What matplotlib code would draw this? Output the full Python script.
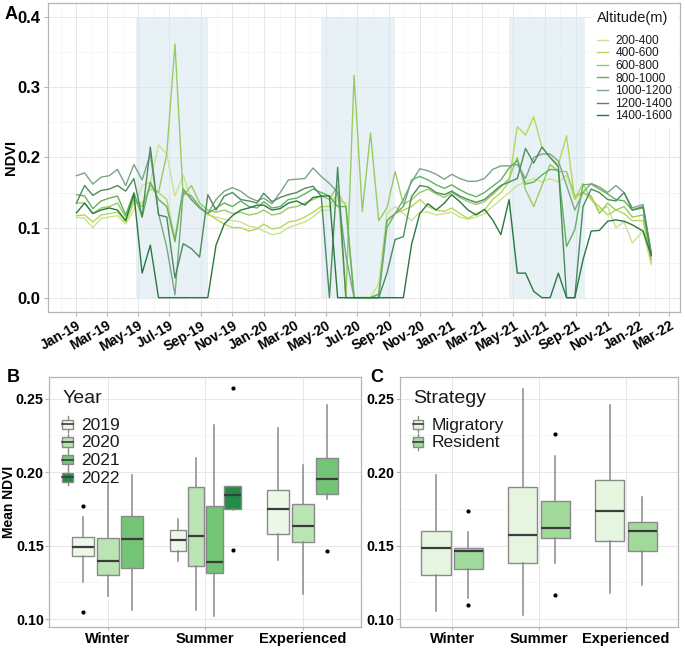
"""NDVI by altitude band (A) and seasonal mean NDVI boxplots by year (B) and strategy (C)."""

import matplotlib

matplotlib.use("Agg")
import matplotlib.dates as mdates
import matplotlib.pyplot as plt
import pandas as pd
from matplotlib.legend_handler import HandlerBase
from matplotlib.lines import Line2D
from matplotlib.patches import Patch, Rectangle
from matplotlib.ticker import MultipleLocator

plt.rcParams["font.family"] = ["Liberation Sans", "DejaVu Sans"]

# ---- panel A data: 16-day composites, 23 per year + two in Jan 2022 ----
dates = [pd.Timestamp(y, 1, 1) + pd.Timedelta(days=16 * k) for y in (2019, 2020, 2021) for k in range(23)]
dates += [pd.Timestamp("2022-01-09"), pd.Timestamp("2022-01-25")]

altitude_bands = ["200-400", "400-600", "600-800", "800-1000", "1000-1200", "1200-1400", "1400-1600"]

ndvi_200_400 = [
    0.115, 0.113, 0.100, 0.113, 0.115, 0.117, 0.105, 0.125, 0.160, 0.165, 0.218, 0.205, 0.145, 0.175, 0.140, 0.128, 0.118, 0.115, 0.112, 0.110, 0.108, 0.102, 0.100,
    0.095, 0.090, 0.092, 0.100, 0.104, 0.108, 0.115, 0.125, 0.125, 0.140, 0.135, 0.000, 0.000, 0.000, 0.020, 0.120, 0.130, 0.120, 0.110, 0.122, 0.122, 0.118, 0.120,
    0.122, 0.115, 0.112, 0.115, 0.120, 0.130, 0.140, 0.150, 0.160, 0.165, 0.170, 0.165, 0.170, 0.165, 0.175, 0.140, 0.150, 0.140, 0.125, 0.130, 0.100, 0.108, 0.078,
    0.095, 0.047,
]
ndvi_400_600 = [
    0.117, 0.118, 0.108, 0.118, 0.120, 0.122, 0.108, 0.135, 0.135, 0.155, 0.150, 0.140, 0.085, 0.155, 0.140, 0.128, 0.120, 0.112, 0.105, 0.100, 0.100, 0.095, 0.098,
    0.105, 0.098, 0.100, 0.108, 0.110, 0.115, 0.122, 0.130, 0.130, 0.150, 0.130, 0.000, 0.000, 0.000, 0.005, 0.110, 0.120, 0.125, 0.130, 0.140, 0.130, 0.125, 0.123,
    0.128, 0.120, 0.113, 0.120, 0.125, 0.140, 0.150, 0.165, 0.244, 0.232, 0.258, 0.215, 0.200, 0.190, 0.231, 0.140, 0.163, 0.140, 0.130, 0.118, 0.125, 0.120, 0.110,
    0.110, 0.050,
]
ndvi_600_800 = [
    0.135, 0.135, 0.120, 0.128, 0.130, 0.135, 0.115, 0.140, 0.130, 0.160, 0.150, 0.205, 0.362, 0.145, 0.160, 0.135, 0.125, 0.122, 0.125, 0.120, 0.122, 0.118, 0.120,
    0.125, 0.118, 0.120, 0.128, 0.130, 0.135, 0.140, 0.145, 0.140, 0.160, 0.000, 0.317, 0.123, 0.235, 0.110, 0.128, 0.180, 0.133, 0.140, 0.150, 0.155, 0.148, 0.143,
    0.150, 0.143, 0.137, 0.133, 0.137, 0.147, 0.158, 0.170, 0.200, 0.154, 0.130, 0.160, 0.190, 0.180, 0.180, 0.145, 0.150, 0.145, 0.120, 0.135, 0.125, 0.130, 0.115,
    0.118, 0.055,
]
ndvi_800_1000 = [
    0.147, 0.145, 0.127, 0.138, 0.142, 0.145, 0.118, 0.150, 0.115, 0.165, 0.140, 0.130, 0.080, 0.155, 0.140, 0.128, 0.120, 0.128, 0.135, 0.130, 0.138, 0.130, 0.128,
    0.137, 0.128, 0.130, 0.140, 0.142, 0.148, 0.155, 0.150, 0.145, 0.130, 0.130, 0.000, 0.000, 0.000, 0.005, 0.110, 0.120, 0.130, 0.168, 0.173, 0.168, 0.161, 0.156,
    0.161, 0.154, 0.148, 0.144, 0.150, 0.159, 0.168, 0.185, 0.196, 0.162, 0.165, 0.175, 0.183, 0.182, 0.073, 0.097, 0.161, 0.162, 0.155, 0.148, 0.140, 0.138, 0.125,
    0.128, 0.062,
]
ndvi_1000_1200 = [
    0.174, 0.178, 0.162, 0.172, 0.174, 0.183, 0.160, 0.190, 0.168, 0.205, 0.120, 0.072, 0.004, 0.150, 0.145, 0.130, 0.120, 0.140, 0.152, 0.157, 0.152, 0.143, 0.138,
    0.142, 0.134, 0.150, 0.168, 0.169, 0.170, 0.185, 0.173, 0.163, 0.150, 0.060, 0.000, 0.000, 0.000, 0.000, 0.100, 0.120, 0.140, 0.165, 0.184, 0.181, 0.176, 0.169,
    0.176, 0.170, 0.166, 0.166, 0.170, 0.183, 0.188, 0.188, 0.190, 0.170, 0.200, 0.205, 0.205, 0.195, 0.160, 0.125, 0.150, 0.163, 0.158, 0.150, 0.160, 0.150, 0.128,
    0.133, 0.065,
]
ndvi_1200_1400 = [
    0.135, 0.160, 0.146, 0.153, 0.155, 0.160, 0.152, 0.170, 0.115, 0.215, 0.118, 0.115, 0.028, 0.077, 0.070, 0.058, 0.147, 0.125, 0.145, 0.150, 0.140, 0.138, 0.135,
    0.149, 0.137, 0.143, 0.147, 0.150, 0.156, 0.159, 0.145, 0.000, 0.186, 0.000, 0.000, 0.000, 0.000, 0.000, 0.035, 0.083, 0.087, 0.144, 0.160, 0.158, 0.150, 0.147,
    0.152, 0.145, 0.140, 0.136, 0.140, 0.150, 0.160, 0.165, 0.170, 0.213, 0.192, 0.215, 0.200, 0.187, 0.000, 0.000, 0.130, 0.155, 0.150, 0.140, 0.138, 0.150, 0.125,
    0.130, 0.060,
]
ndvi_1400_1600 = [
    0.121, 0.135, 0.120, 0.125, 0.128, 0.125, 0.110, 0.148, 0.035, 0.075, 0.000, 0.000, 0.000, 0.000, 0.000, 0.000, 0.000, 0.075, 0.105, 0.117, 0.125, 0.128, 0.132,
    0.132, 0.125, 0.127, 0.135, 0.138, 0.132, 0.143, 0.145, 0.145, 0.000, 0.000, 0.000, 0.000, 0.000, 0.000, 0.000, 0.000, 0.000, 0.076, 0.120, 0.134, 0.125, 0.135,
    0.147, 0.137, 0.125, 0.118, 0.126, 0.111, 0.090, 0.140, 0.035, 0.035, 0.009, 0.000, 0.000, 0.035, 0.000, 0.000, 0.054, 0.095, 0.096, 0.109, 0.111, 0.109, 0.104,
    0.095, 0.060,
]
band_series = [ndvi_200_400, ndvi_400_600, ndvi_600_800, ndvi_800_1000, ndvi_1000_1200, ndvi_1200_1400, ndvi_1400_1600]
band_colors = ["#cbe28e", "#b7d75a", "#98cb62", "#5fb35c", "#7aa685", "#4d8b5d", "#2a7841"]

# shaded summer periods
summer_start = ["2019-04-28", "2020-04-22", "2021-04-22"]
summer_end = ["2019-09-14", "2020-09-12", "2021-09-17"]

# ---- panel B data: box stats per season x year ----
b_seasons = ["Winter", "Summer", "Experienced"]
b_years = ["2019", "2020", "2021", "2022"]
b_year_colors = ["#EDF8E9", "#BAE4B3", "#74C476", "#238B45"]
b_box_season = [0, 0, 0, 1, 1, 1, 1, 2, 2, 2]
b_box_year = [0, 1, 2, 0, 1, 2, 3, 0, 1, 2]
b_whislo = [0.1252, 0.1156, 0.1063, 0.1392, 0.1063, 0.1022, 0.1742, 0.1403, 0.1174, 0.1820]
b_q1 = [0.1430, 0.1303, 0.1348, 0.1464, 0.1359, 0.1312, 0.1751, 0.1582, 0.1526, 0.1854]
b_med = [0.1493, 0.1397, 0.1546, 0.1537, 0.1568, 0.1390, 0.1847, 0.1747, 0.1631, 0.1952]
b_q3 = [0.1562, 0.1550, 0.1702, 0.1609, 0.1896, 0.1769, 0.1909, 0.1878, 0.1785, 0.2099]
b_whishi = [0.1698, 0.1920, 0.1983, 0.1680, 0.2099, 0.2322, 0.1909, 0.2299, 0.2050, 0.2458]
b_fliers = [[0.177, 0.1051], [], [], [], [], [], [0.2574, 0.147], [], [], [0.146]]

# ---- panel C data: box stats per season x strategy ----
c_strategies = ["Migratory", "Resident"]
c_colors = ["#E5F5E0", "#A1D99B"]
c_box_season = [0, 0, 1, 1, 2, 2]
c_box_strategy = [0, 1, 0, 1, 0, 1]
c_whislo = [0.1052, 0.1146, 0.1027, 0.1381, 0.1175, 0.1235]
c_q1 = [0.1302, 0.1338, 0.1383, 0.1553, 0.1533, 0.1463]
c_med = [0.1481, 0.1463, 0.1573, 0.1618, 0.1737, 0.1602]
c_q3 = [0.1602, 0.1486, 0.1896, 0.1802, 0.1947, 0.1663]
c_whishi = [0.1980, 0.1593, 0.2567, 0.2108, 0.2457, 0.1828]
c_fliers = [[], [0.1739, 0.1094], [], [0.226, 0.1164], [], []]

GRID = "#e3e3e3"
GRID_MINOR = "#efefef"
BORDER = "#b5b5b5"
BOX_EDGE = "#8a8a8a"
MEDIAN = "#3c3c3c"
TEXT = "#1a1a1a"


def style_axes(ax):
    for s in ax.spines.values():
        s.set_color(BORDER)
        s.set_linewidth(0.9)
    ax.grid(which="major", color=GRID, lw=0.6)
    ax.grid(which="minor", color=GRID_MINOR, lw=0.4)
    ax.set_axisbelow(True)
    ax.tick_params(which="major", color=BORDER, length=3, width=0.8, pad=2, labelcolor="black")
    ax.tick_params(which="minor", length=0)
    for lab in ax.get_xticklabels() + ax.get_yticklabels():
        lab.set_fontweight("bold")


def color_legend(leg, title_gap):
    for t in leg.get_texts():
        t.set_color(TEXT)
    leg.get_title().set_color(TEXT)
    leg._legend_box.sep = title_gap  # room between title and keys, as in ggplot


class BoxKey(HandlerBase):
    """ggplot-like boxplot legend key: whiskers, box and median."""

    def create_artists(self, legend, orig, x0, y0, w, h, fontsize, trans):
        cx = x0 + w / 2
        lo = Line2D([cx, cx], [y0 - 0.2 * h, y0 + 0.1 * h], color=BOX_EDGE, lw=1, transform=trans)
        hi = Line2D([cx, cx], [y0 + 0.9 * h, y0 + 1.2 * h], color=BOX_EDGE, lw=1, transform=trans)
        box = Rectangle((x0, y0 + 0.1 * h), w, 0.8 * h, facecolor=orig.get_facecolor(),
                        edgecolor=BOX_EDGE, lw=1, transform=trans)
        med = Line2D([x0, x0 + w], [y0 + 0.5 * h] * 2, color=MEDIAN, lw=1.2, transform=trans)
        return [lo, hi, box, med]


def draw_boxes(ax, season, slot, nslots_per_season, whislo, q1, med, q3, whishi, fliers, colors):
    stats, pos, widths = [], [], []
    for i in range(len(med)):
        step = 0.75 / nslots_per_season[season[i]]
        pos.append(season[i] + 1 - 0.375 + step * (slot[i] + 0.5))
        widths.append(step * 0.9)
        stats.append(dict(whislo=whislo[i], q1=q1[i], med=med[i], q3=q3[i], whishi=whishi[i], fliers=fliers[i]))
    bp = ax.bxp(stats, positions=pos, widths=widths, patch_artist=True, showcaps=False,
                boxprops=dict(edgecolor=BOX_EDGE, lw=1),
                medianprops=dict(color=MEDIAN, lw=1.6),
                whiskerprops=dict(color=BOX_EDGE, lw=1.1),
                flierprops=dict(marker="o", markersize=2, markerfacecolor="black", markeredgecolor="black"),
                manage_ticks=False)
    for patch, c in zip(bp["boxes"], colors):
        patch.set_facecolor(c)


def season_axes(ax, legend_handles, legend_labels, legend_title):
    ax.set_xlim(0.4, 3.6)
    ax.set_ylim(0.0946, 0.2650)
    ax.set_xticks([1, 2, 3])
    ax.set_xticklabels(b_seasons, fontsize=10.5)
    ax.yaxis.set_minor_locator(MultipleLocator(0.025))
    ax.set_yticks([0.10, 0.15, 0.20, 0.25])
    ax.set_yticklabels(["0.10", "0.15", "0.20", "0.25"], fontsize=10.3)
    style_axes(ax)
    ax.tick_params(axis="x", length=2.5, pad=1)
    ax.tick_params(axis="y", pad=1)
    leg = ax.legend(legend_handles, legend_labels, title=legend_title, loc="upper left",
                    bbox_to_anchor=(0.0, 1.0), frameon=False, fontsize=12.5, title_fontsize=14,
                    handler_map={Patch: BoxKey()}, handlelength=0.6, handleheight=0.65,
                    handletextpad=0.5, labelspacing=0.15, borderaxespad=0.35, alignment="left")
    color_legend(leg, 8)


fig = plt.figure(figsize=(6.85, 6.48), dpi=100)

# ---------------- panel A ----------------
ax = fig.add_axes([0.0696, 0.519, 0.9231, 0.4759])
for s, e in zip(summer_start, summer_end):
    ax.axvspan(pd.Timestamp(s), pd.Timestamp(e), ymin=0.02 / 0.44, ymax=0.42 / 0.44,
               color="#d6e6f0", alpha=0.55, lw=0, zorder=1)
for band, vals, col in zip(altitude_bands, band_series, band_colors):
    ax.plot(dates, vals, color=col, lw=1.0, label=band, zorder=2)

span = dates[-1] - dates[0]
ax.set_xlim(dates[0] - span * 0.05, dates[-1] + span * 0.05)
ax.set_ylim(-0.02, 0.42)
ax.yaxis.set_minor_locator(MultipleLocator(0.05))
ax.set_yticks([0.0, 0.1, 0.2, 0.3, 0.4])
ax.set_yticklabels(["0.0", "0.1", "0.2", "0.3", "0.4"], fontsize=12)
ax.xaxis.set_major_locator(mdates.MonthLocator(bymonth=[1, 3, 5, 7, 9, 11]))
ax.xaxis.set_minor_locator(mdates.MonthLocator(bymonth=[2, 4, 6, 8, 10, 12]))
ax.xaxis.set_major_formatter(mdates.DateFormatter("%b-%y"))
ax.tick_params(axis="x", labelsize=10)
plt.setp(ax.get_xticklabels(), rotation=30, ha="right", rotation_mode="anchor")
ax.set_ylabel("NDVI", fontsize=10.5, fontweight="bold")
ax.yaxis.set_label_coords(-0.047, 0.5)
style_axes(ax)
leg = ax.legend(title="Altitude(m)", loc="upper right", bbox_to_anchor=(1.0, 1.0), frameon=True,
                facecolor="white", edgecolor="none", framealpha=1, fontsize=8.6, title_fontsize=10.5,
                handlelength=0.9, handletextpad=0.6, labelspacing=0.05, borderaxespad=0.15,
                borderpad=0.5, alignment="left")
color_legend(leg, 7)

# ---------------- panel B ----------------
axb = fig.add_axes([0.0720, 0.0324, 0.4550, 0.3863])
draw_boxes(axb, b_box_season, b_box_year, [3, 4, 3], b_whislo, b_q1, b_med, b_q3, b_whishi, b_fliers,
           [b_year_colors[y] for y in b_box_year])
season_axes(axb, [Patch(facecolor=c) for c in b_year_colors], b_years, "Year")
axb.set_ylabel("Mean NDVI", fontsize=10, fontweight="bold")
axb.yaxis.set_label_coords(-0.106, 0.5)

# ---------------- panel C ----------------
axc = fig.add_axes([0.5839, 0.0324, 0.4063, 0.3863])
draw_boxes(axc, c_box_season, c_box_strategy, [2, 2, 2], c_whislo, c_q1, c_med, c_q3, c_whishi, c_fliers,
           [c_colors[s] for s in c_box_strategy])
season_axes(axc, [Patch(facecolor=c) for c in c_colors], c_strategies, "Strategy")

# panel letters
fig.text(0.007, 0.991, "A", fontsize=13, fontweight="bold", va="top")
fig.text(0.010, 0.431, "B", fontsize=13, fontweight="bold", va="top")
fig.text(0.541, 0.431, "C", fontsize=13, fontweight="bold", va="top")

fig.savefig("out.png", dpi=100)
plt.close(fig)
